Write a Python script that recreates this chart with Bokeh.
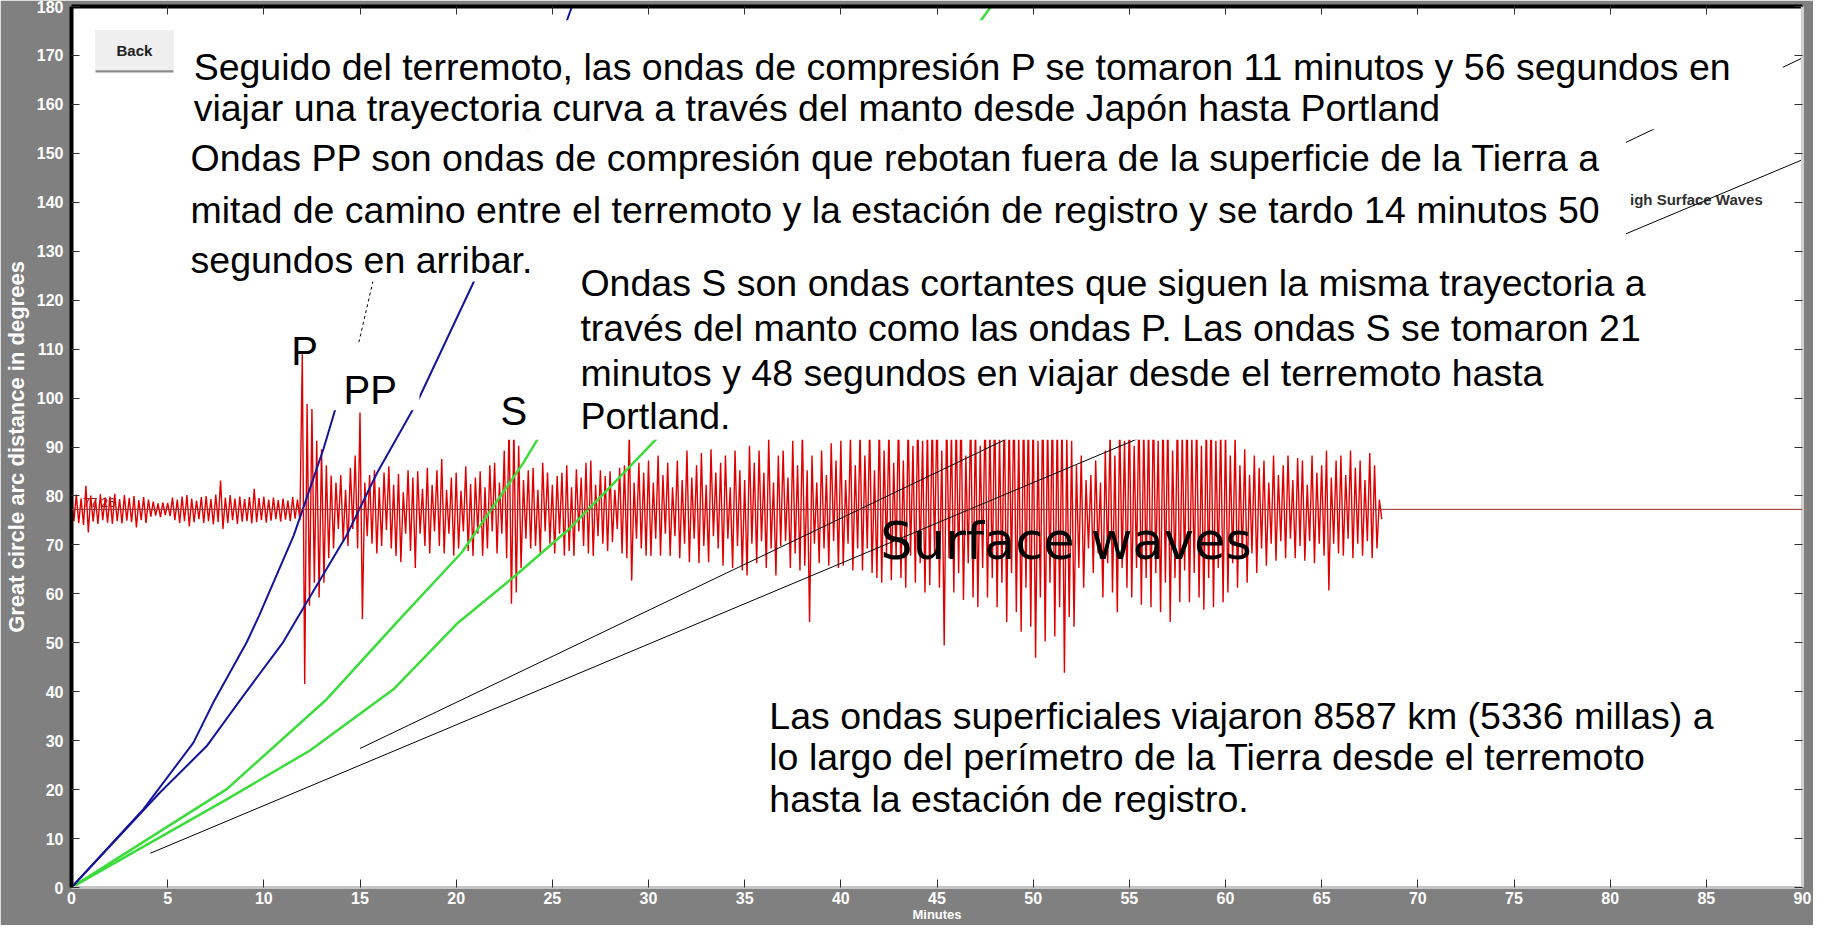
from bokeh.plotting import figure
from bokeh.models import Range1d, LinearAxis, FixedTicker, BoxAnnotation, Label, Span
from bokeh.embed import file_html
from bokeh.resources import INLINE

# ---------------- data ----------------
minute_ticks = list(range(0, 91, 5))
degree_ticks = list(range(0, 181, 10))

BASELINE = 77.26          # station distance (deg), seismogram baseline
SAMPLE_STEP = 0.25        # minutes between successive peaks of the trace

# seismogram peak amplitudes above the baseline (deg), one row per minute
trace_up = [
    2.5, 3.0, 2.2, 4.8,   2.8, 2.0, 3.1, 2.4,   2.6, 3.2, 2.1, 2.9,   2.3, 2.7, 1.9, 2.5,
    2.0, 1.6, 1.2, 1.4,   1.3, 2.4, 2.0, 2.6,   2.9, 2.2, 1.8, 2.5,   2.7, 2.1, 3.0, 5.9,
    2.4, 2.9, 2.2, 2.6,   2.1, 2.5, 4.2, 2.3,   2.6, 2.0, 2.4, 1.9,   2.2, 1.8, 2.5, 2.0,
    31.7, 21.5, 20.5, 14.0,  12.3, 9.0, 6.9, 5.5,  7.0, 4.0, 8.5, 11.0,  19.8, 5.5, 7.0, 8.0,
    4.5, 7.5, 8.8, 5.0,   7.2, 3.5, 8.0, 6.5,   7.8, 4.2, 8.5, 5.0,   8.0, 10.3, 4.0, 6.5,
    7.5, 3.8, 8.8, 5.2,   6.5, 7.8, 4.5, 9.0,   9.5, 5.5, 12.0, 18.0,  17.0, 13.0, 6.0, 8.0,
    8.5, 4.0, 9.5, 7.5,   5.0, 6.8, 7.5, 9.0,   4.5, 8.2, 6.5, 9.5,   10.0, 5.0, 8.0, 6.8,
    7.8, 4.0, 8.5, 9.0,   16.0, 5.5, 9.5, 7.5,
    10.0, 5.5, 11.0, 7.0,  9.5, 4.5, 10.0, 6.0,  12.0, 6.5, 9.0, 11.5,  5.0, 12.3, 7.5, 9.5,
    11.0, 4.5, 12.0, 8.0,  6.0, 13.0, 9.5, 12.0,  7.5, 14.4, 5.5, 11.0,  12.0, 6.5, 14.0, 9.0,
    16.0, 8.0, 11.0, 5.5,  12.0, 7.0, 13.5, 10.0,  14.0, 6.0, 15.0, 9.0,  16.0, 11.0, 17.0, 8.0,
    18.0, 12.0, 16.5, 9.5,  19.0, 10.0, 18.0, 13.0,  20.0, 14.0, 17.0, 19.0,  21.0, 12.0, 20.0, 16.0,
    19.0, 22.0, 11.0, 20.0,  18.0, 13.0, 21.0, 17.0,  22.0, 15.0, 21.0, 19.0,  23.0, 16.0, 22.0, 20.0,
    21.0, 14.0, 23.0, 18.0,  22.0, 19.0, 20.0, 15.0,  14.0, 9.0, 11.0, 6.0,  7.0, 10.0, 5.5, 12.0,
    16.0, 11.0, 18.0, 14.0,  20.0, 13.0, 21.0, 17.0,  18.0, 22.0, 14.0, 20.0,  19.0, 12.0, 20.0, 16.0,
    21.0, 15.0, 19.0, 13.0,  18.0, 20.0, 14.0, 17.0,  16.0, 11.0, 15.0, 9.0,  12.3, 7.0, 11.0, 8.5,
    10.0, 5.5, 11.0, 7.0,  9.0, 11.0, 6.0, 10.5,  10.0, 5.0, 11.0, 7.5,  9.0, 12.0, 6.5, 10.0,
    11.0, 7.0, 12.0, 8.5,  10.0, 6.0, 11.5, 9.0,
    2.0,
]
# seismogram trough amplitudes below the baseline (deg), one row per minute
trace_down = [
    2.4, 2.8, 3.2, 4.7,   2.5, 3.0, 2.2, 2.7,   3.0, 2.4, 2.9, 2.3,   2.6, 3.7, 2.2, 2.8,
    1.5, 1.3, 1.6, 1.2,   1.4, 2.2, 2.8, 2.4,   3.5, 2.6, 2.0, 2.8,   2.4, 3.1, 2.6, 4.0,
    2.8, 2.2, 3.0, 2.5,   2.4, 2.9, 2.6, 2.2,   2.7, 2.3, 2.0, 2.5,   2.1, 2.4, 1.9, 2.2,
    35.7, 19.7, 15.0, 18.0,  15.0, 10.0, 8.0, 4.0,  6.5, 7.5, 4.0, 8.0,  22.4, 5.5, 7.0, 9.0,
    7.5, 4.2, 8.0, 9.5,   10.8, 5.0, 8.5, 12.0,  5.0, 7.5, 9.0, 4.5,   7.5, 9.0, 5.0, 9.5,
    8.0, 4.5, 8.5, 9.5,   5.0, 9.5, 8.0, 4.5,   9.0, 5.0, 10.0, 19.3,  17.0, 12.0, 6.0, 8.0,
    7.5, 9.0, 4.5, 7.0,   9.0, 5.0, 9.5, 8.5,   9.5, 4.5, 7.5, 9.0,   9.5, 5.5, 7.0, 8.5,
    6.7, 4.0, 9.0, 10.0,  14.6, 6.0, 8.0, 9.5,
    9.5, 6.0, 9.5, 5.0,  9.5, 5.5, 10.0, 7.0,  10.8, 6.0, 11.0, 7.5,  10.8, 5.5, 8.0, 11.5,
    6.0, 12.0, 7.5, 12.5,  13.5, 7.0, 11.0, 6.5,  12.0, 8.0, 13.5, 7.5,  6.5, 12.0, 9.0, 12.5,
    11.5, 23.0, 7.0, 11.0,  8.0, 11.5, 6.5, 12.0,  11.5, 7.0, 12.5, 8.0,  12.5, 8.0, 13.0, 14.0,
    15.0, 9.0, 14.5, 10.0,  14.0, 16.0, 9.5, 15.0,  11.0, 17.0, 15.5, 9.5,  16.0, 27.8, 10.0, 17.0,
    13.0, 18.5, 11.0, 18.0,  20.0, 12.0, 18.0, 14.0,  20.0, 15.0, 23.0, 13.0,  21.0, 25.0, 16.0, 24.0,
    30.3, 18.0, 27.0, 15.0,  26.0, 20.0, 33.4, 22.0,  24.0, 12.0, 16.0, 8.0,  13.0, 9.0, 18.0, 11.0,
    17.0, 21.0, 12.0, 16.0,  18.0, 12.0, 19.5, 14.0,  20.0, 13.0, 21.0, 15.0,  23.0, 14.0, 19.0, 12.5,
    19.0, 13.0, 18.0, 20.5,  14.0, 20.0, 12.0, 19.0,  17.0, 11.0, 16.0, 10.0,  15.0, 9.0, 13.0, 8.0,
    11.5, 7.0, 10.5, 6.5,  10.0, 6.0, 10.0, 7.5,  10.5, 6.5, 11.0, 7.0,  9.5, 16.6, 7.0, 9.0,
    9.5, 6.0, 10.0, 7.0,  9.5, 6.5, 10.0, 8.0,
    2.0,
]

# travel-time curves (minutes, great-circle degrees)
p_time = [0.0, 3.74, 6.34, 7.4, 9.11, 9.75, 11.55, 12.03, 13.1, 13.7, 14.1]
p_dist = [0.0, 16.0, 29.6, 38.0, 50.1, 55.5, 71.9, 77.3, 89.6, 97.5, 102.5]
pp_time = [0.0, 4.6, 7.03, 8.94, 11.0, 12.13, 14.3, 15.9, 18.0, 20.9, 26.0, 26.3]
pp_dist = [0.0, 19.4, 28.9, 39.2, 50.1, 57.6, 71.9, 84.8, 99.4, 123.6, 179.8, 183.0]
s_time = [0.0, 8.07, 13.2, 16.9, 20.3, 23.5, 24.3, 25.6]
s_dist = [0.0, 20.1, 38.2, 54.1, 68.5, 86.8, 92.0, 100.0]
ss_time = [0.0, 8.07, 12.4, 16.74, 20.1, 23.07, 25.86, 27.9, 30.5, 35.0, 40.0, 44.5, 47.9]
ss_dist = [0.0, 18.0, 28.0, 40.5, 54.1, 63.7, 73.2, 81.4, 92.0, 113.0, 138.0, 162.0, 180.5]
surf_slow_time = [4.1, 90.0]
surf_slow_dist = [7.0, 148.7]
surf_fast_time = [15.0, 90.0]
surf_fast_dist = [28.4, 169.5]
dash_time = [14.8, 15.8]
dash_dist = [109.0, 126.0]

# texts
text1 = ["Seguido del terremoto, las ondas de compresión  P se tomaron 11 minutos y 56 segundos en",
         "viajar una trayectoria curva a través del manto desde Japón hasta Portland"]
text2 = ["Ondas PP son ondas de compresión que rebotan fuera de la superficie de la Tierra a",
         "mitad de camino entre el terremoto y la estación de registro y se tardo 14 minutos 50",
         "segundos en arribar."]
text3 = ["Ondas S son ondas cortantes que siguen la misma trayectoria a",
         "través del manto como las ondas P.  Las ondas S se tomaron 21",
         "minutos y 48 segundos  en viajar desde el terremoto hasta",
         "Portland."]
text4 = ["Las ondas superficiales viajaron 8587 km (5336 millas) a",
         "lo largo del perímetro de la Tierra desde el terremoto",
         "hasta la estación de registro."]

# ---------------- build trace polyline ----------------
trace_x, trace_y = [], []
for i, (u, d) in enumerate(zip(trace_up, trace_down)):
    t = i * SAMPLE_STEP
    trace_x += [t, t + SAMPLE_STEP / 2]
    trace_y += [BASELINE + u, BASELINE - d]

# ---------------- figure ----------------
p = figure(width=1813, height=925, x_range=Range1d(0, 90), y_range=Range1d(0, 180),
           output_backend="svg", toolbar_location=None,
           x_axis_location=None, y_axis_location=None,
           min_border_left=70, min_border_right=11, min_border_top=6, min_border_bottom=38)
p.grid.visible = False
p.background_fill_color = "white"
p.border_fill_color = "#808080"
p.outline_line_color = None

FONT = "Liberation Sans"


def style_axis(ax, line_color, line_width, show_labels):
    ax.major_tick_in = 8
    ax.major_tick_out = 0
    ax.minor_tick_line_color = None
    ax.major_tick_line_color = "#303030"
    ax.major_tick_line_width = 1
    ax.axis_line_color = line_color
    ax.axis_line_width = line_width
    if show_labels:
        ax.major_label_text_color = "white"
        ax.major_label_text_font = FONT
        ax.major_label_text_font_style = "bold"
        ax.major_label_text_font_size = "16px"
        ax.axis_label_text_color = "white"
        ax.axis_label_text_font = FONT
        ax.axis_label_text_font_style = "bold"
    else:
        ax.major_label_overrides = {t: "" for t in ax.ticker.ticks}
        ax.major_label_text_font_size = "0px"
        ax.major_label_standoff = 0


xb = LinearAxis(ticker=FixedTicker(ticks=minute_ticks), axis_label="Minutes")
style_axis(xb, "#c4c4c4", 3, True)
xb.major_label_standoff = 4
xb.axis_label_standoff = 0
xb.axis_label_text_font_size = "13px"
p.add_layout(xb, "below")

yl = LinearAxis(ticker=FixedTicker(ticks=degree_ticks), axis_label="Great circle arc distance in degrees")
style_axis(yl, "black", 4, True)
yl.major_label_standoff = 8
yl.axis_label_standoff = 5
yl.axis_label_text_font_size = "22px"
p.add_layout(yl, "left")

xt = LinearAxis(ticker=FixedTicker(ticks=minute_ticks))
style_axis(xt, "black", 4, False)
p.add_layout(xt, "above")

yr = LinearAxis(ticker=FixedTicker(ticks=degree_ticks))
style_axis(yr, "#d0d0d0", 3, False)
p.add_layout(yr, "right")

# labels under the glyphs
p.add_layout(Label(x=0.6, y=78.7, text="77.26", text_font=FONT, text_font_size="13px",
                   text_color="#8b1a1a", text_baseline="alphabetic", level="underlay"))
p.add_layout(Label(x=81.03, y=140.6, text="igh Surface Waves", text_font=FONT,
                   text_font_size="15px", text_font_style="bold", text_color="#303030",
                   text_baseline="alphabetic", level="underlay"))

# seismogram
p.line(trace_x, trace_y, line_color="#e00000", line_width=1.4)
p.add_layout(Span(location=BASELINE, dimension="width", line_color="#9e2a2a", line_width=1))

# travel-time curves
p.line(surf_slow_time, surf_slow_dist, line_color="black", line_width=1)
p.line(surf_fast_time, surf_fast_dist, line_color="black", line_width=1)
p.line(s_time, s_dist, line_color="#3cdc3c", line_width=2.5)
p.line(ss_time, ss_dist, line_color="#3cdc3c", line_width=2.5)
p.line(p_time, p_dist, line_color="#15159a", line_width=2)
p.line(pp_time, pp_dist, line_color="#15159a", line_width=2)
p.line(dash_time, dash_dist, line_color="black", line_width=1, line_dash="3 3")

# white text boxes (slide overlays)
for (l, r, b, t) in [(5.82, 88.98, 154.9, 177.2),
                     (5.56, 80.82, 123.8, 154.9),
                     (22.09, 80.82, 91.5, 128.7),
                     (13.10, 18.09, 97.5, 111.4),
                     (35.7, 68.2, 15.3, 41.9)]:
    p.add_layout(BoxAnnotation(left=l, right=r, bottom=b, top=t, fill_color="white",
                               fill_alpha=1.0, line_alpha=0))

# Back button
p.add_layout(BoxAnnotation(left=1.25, right=5.30, bottom=166.9, top=175.1, fill_color="#efefef",
                           fill_alpha=1.0, line_color="#dadada", line_width=1))
p.add_layout(BoxAnnotation(left=1.25, right=5.30, bottom=166.5, top=166.95, fill_color="#8a8a8a",
                           fill_alpha=1.0, line_alpha=0))
p.add_layout(Label(x=3.27, y=171.0, text="Back", text_font=FONT, text_font_size="15px",
                   text_font_style="bold", text_color="#202020", text_align="center",
                   text_baseline="middle"))


def add_block(lines, x, ys, size="37.5px"):
    for line, y in zip(lines, ys):
        p.add_layout(Label(x=x, y=y, text=line, text_font=FONT, text_font_size=size,
                           text_color="black", text_baseline="alphabetic"))


add_block(text1, 6.35, [167.6, 159.2])
add_block(text2, 6.19, [149.1, 138.5, 128.3])
add_block(text3, 26.46, [123.6, 114.4, 105.2, 96.4])
add_block(text4, 36.28, [35.1, 26.6, 18.0])

for txt, x, y in [("P", 11.43, 109.7), ("PP", 14.14, 101.6), ("S", 22.3, 97.4)]:
    p.add_layout(Label(x=x, y=y, text=txt, text_font=FONT, text_font_size="40px",
                       text_color="black", text_baseline="alphabetic"))

p.add_layout(Label(x=42.05, y=70.6, text="Surface waves", text_font="DejaVu Sans",
                   text_font_size="51px", text_color="black", text_baseline="alphabetic"))

open("out.html", "w").write(file_html(p, INLINE))
